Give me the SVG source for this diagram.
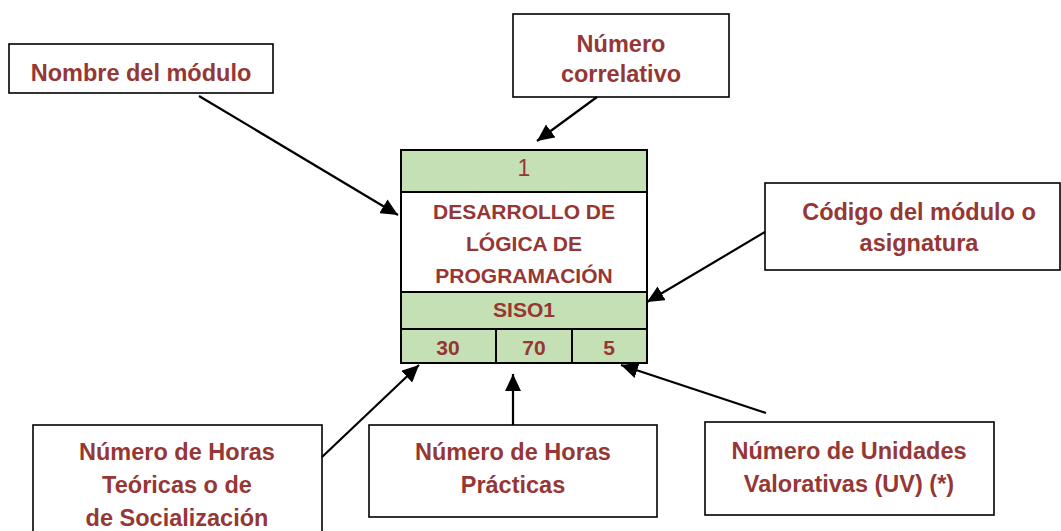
<svg xmlns="http://www.w3.org/2000/svg" width="1061" height="531" viewBox="0 0 1061 531">
  <defs>
    <marker id="arr" markerUnits="userSpaceOnUse" markerWidth="18" markerHeight="16" refX="17" refY="8" orient="auto">
      <path d="M0,0 L17,8 L0,16 z" fill="#000"/>
    </marker>
    <style>
      .box { fill: #fff; stroke: #000; stroke-width: 1.6; }
      .cell { stroke: #000; stroke-width: 2; }
      .green { fill: #C5E0B4; }
      .white { fill: #fff; }
      .lbl { font-family: "Liberation Sans", Arial, sans-serif; font-weight: bold; font-size: 23.5px; fill: #953735; text-anchor: middle; }
      .cap { font-family: "Liberation Sans", Arial, sans-serif; font-weight: bold; font-size: 21px; fill: #953735; text-anchor: middle; }
      .num { font-family: "Liberation Sans", Arial, sans-serif; font-weight: normal; font-size: 23px; fill: #953735; text-anchor: middle; }
      .conn { stroke: #000; stroke-width: 2.2; fill: none; marker-end: url(#arr); }
    </style>
  </defs>
  <rect width="1061" height="531" fill="#fff"/>

  <g id="modulo">
    <rect class="green cell" x="401" y="150" width="246" height="42"/>
    <text class="num" x="524" y="176">1</text>
    <rect class="white cell" x="401" y="192" width="246" height="100"/>
    <text class="cap" x="524" y="219">DESARROLLO DE</text>
    <text class="cap" x="524" y="251">LÓGICA DE</text>
    <text class="cap" x="524" y="283">PROGRAMACIÓN</text>
    <rect class="green cell" x="401" y="292" width="246" height="37"/>
    <text class="cap" x="524" y="317">SISO1</text>
    <rect class="green cell" x="401" y="329" width="95" height="34"/>
    <rect class="green cell" x="496" y="329" width="76" height="34"/>
    <rect class="green cell" x="572" y="329" width="75" height="34"/>
    <text class="cap" x="448" y="355">30</text>
    <text class="cap" x="534" y="355">70</text>
    <text class="cap" x="609" y="355">5</text>
  </g>

  <g id="nombre">
    <rect class="box" x="9" y="44" width="264" height="49"/>
    <text class="lbl" x="141" y="81">Nombre del módulo</text>
  </g>

  <g id="correlativo">
    <rect class="box" x="513" y="14" width="216" height="83"/>
    <text class="lbl" x="621" y="52">Número</text>
    <text class="lbl" x="621" y="82">correlativo</text>
  </g>

  <g id="codigo">
    <rect class="box" x="765" y="183" width="295" height="87"/>
    <text class="lbl" x="919" y="220">Código del módulo o</text>
    <text class="lbl" x="919" y="251">asignatura</text>
  </g>

  <g id="horas-teoricas">
    <rect class="box" x="33" y="425" width="289" height="110"/>
    <text class="lbl" x="177" y="460">Número de Horas</text>
    <text class="lbl" x="177" y="493">Teóricas o de</text>
    <text class="lbl" x="177" y="526">de Socialización</text>
  </g>

  <g id="horas-practicas">
    <rect class="box" x="369" y="425" width="288" height="92"/>
    <text class="lbl" x="513" y="460">Número de Horas</text>
    <text class="lbl" x="513" y="493">Prácticas</text>
  </g>

  <g id="uv">
    <rect class="box" x="705" y="422" width="289" height="93"/>
    <text class="lbl" x="849" y="459">Número de Unidades</text>
    <text class="lbl" x="849" y="492">Valorativas (UV) (*)</text>
  </g>

  <g id="connectors">
    <line class="conn" x1="199" y1="96" x2="398" y2="215"/>
    <line class="conn" x1="597" y1="97" x2="537" y2="141"/>
    <line class="conn" x1="765" y1="232" x2="647" y2="302"/>
    <line class="conn" x1="322" y1="457" x2="419" y2="365"/>
    <line class="conn" x1="513" y1="425" x2="513" y2="374"/>
    <line class="conn" x1="766" y1="413" x2="621" y2="365"/>
  </g>
</svg>
